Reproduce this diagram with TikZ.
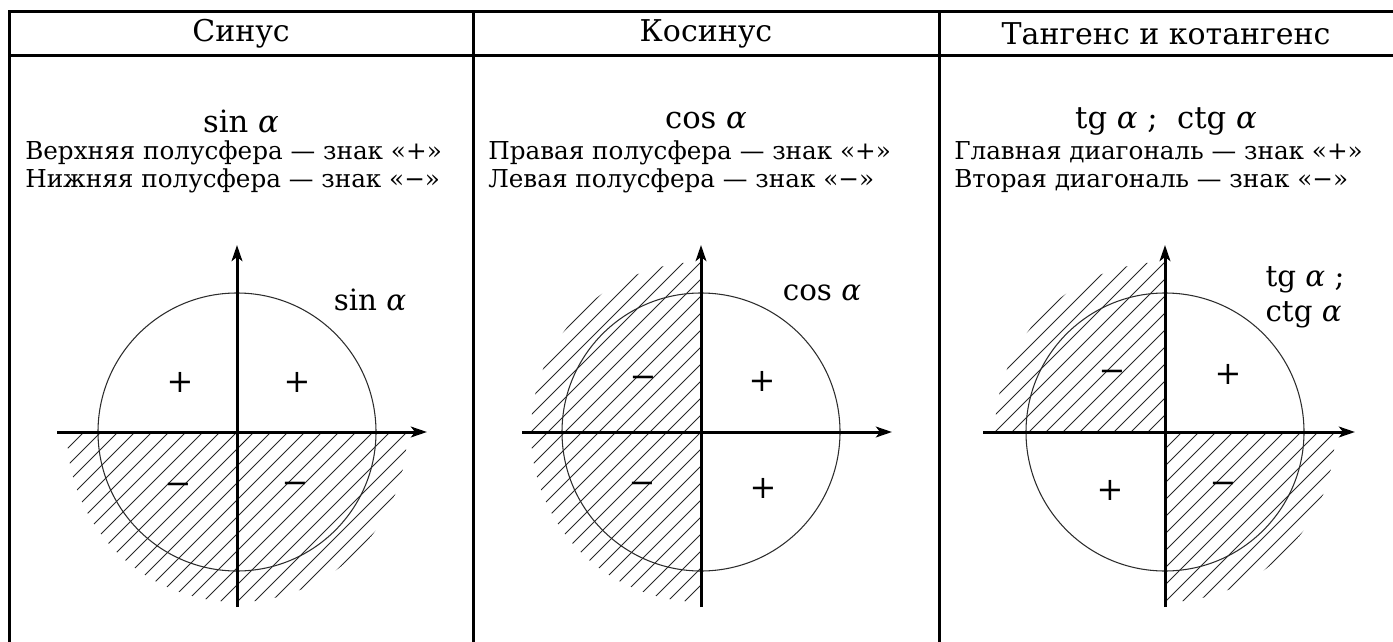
\documentclass[tikz,border=0pt]{standalone}
\usepackage{fontspec}
\setmainfont{DejaVu Serif}
\usetikzlibrary{arrows.meta,positioning,calc}
\definecolor{hatchgray}{RGB}{40,40,40}
\definecolor{ringgray}{RGB}{45,45,45}

\begin{document}
\begin{tikzpicture}[x=0.75pt, y=-0.75pt,
    rule/.style={line width=2.25pt, black},
    axis/.style={line width=2.25pt, -{Stealth[length=12pt,width=8pt,inset=3pt]}},
    ring/.style={draw=ringgray, line width=0.8pt},
    hatch/.style={draw=hatchgray, line width=0.65pt},
    head/.style={font=\fontsize{22.5}{26}\selectfont},
    fname/.style={font=\fontsize{23}{26}\selectfont},
    desc/.style={font=\fontsize{18.5}{21}\selectfont, align=left, anchor=west, inner sep=0pt},
    sgn/.style={font=\fontsize{24}{26}\selectfont},
    tag/.style={font=\fontsize{22}{26}\selectfont, align=left}
  ]
  \useasboundingbox (0,0) rectangle (1393,642);

  % table frame
  \draw[rule] (9.5,700) -- (9.5,12) -- (1395,12);
  \draw[rule] (9.5,56) -- (1395,56);
  \draw[rule] (473.5,12) -- (473.5,700);
  \draw[rule] (939,12) -- (939,700);
  \draw[rule] (1394.5,12) -- (1394.5,700);

  % header row
  \node[head] (h1) at (241,34) {Синус};
  \node[head] (h2) at (706,34) {Косинус};
  \node[head] (h3) at (1166,34) {Тангенс и котангенс};

  \node[fname] (f1) at (241,121) {sin \textit{α}};
  \node[fname] (f2) at (706,121) {cos \textit{α}};
  \node[fname] (f3) at (1166,121) {tg \textit{α} ;\ \ ctg \textit{α}};

  \node[desc] (d1) at (25,167) {Верхняя полусфера — знак «+»\\Нижняя полусфера — знак «−»};
  \node[desc] (d2) at (488,167) {Правая полусфера — знак «+»\\Левая полусфера — знак «−»};
  \node[desc] (d3) at (954,167) {Главная диагональ — знак «+»\\Вторая диагональ — знак «−»};

  % centres and axis ends
  \coordinate (o1) at (237,432);
  \coordinate (o2) at (701,432);
  \coordinate (o3) at (1165,432);
  \coordinate (w1) at (57,432);   \coordinate (e1) at (427,432);
  \coordinate (s1) at (237,607);  \coordinate (n1) at (237,245);
  \coordinate (w2) at (522,432);  \coordinate (e2) at (892,432);
  \coordinate (s2) at (701,607);  \coordinate (n2) at (701,245);
  \coordinate (w3) at (983,432);  \coordinate (e3) at (1355,432);
  \coordinate (s3) at (1165,607); \coordinate (n3) at (1165,245);

  % sine: lower half
  \begin{scope}
    \clip (o1) circle[radius=127.5pt];
    \clip ($(o1)+(-180,0)$) rectangle ($(o1)+(180,180)$);
    \foreach \s in {-357,-340,...,360}
      \draw[hatch] ($(o1)+(\s,0)+(-180,180)$) -- ++(360,-360);
  \end{scope}
  % cosine: left half
  \begin{scope}
    \clip (o2) circle[radius=127.5pt];
    \clip ($(o2)+(-180,-180)$) rectangle ($(o2)+(0,180)$);
    \foreach \s in {-357,-340,...,360}
      \draw[hatch] ($(o2)+(\s,0)+(-180,180)$) -- ++(360,-360);
  \end{scope}
  % tangent: 2nd and 4th quarters
  \begin{scope}
    \clip (o3) circle[radius=127.5pt];
    \clip ($(o3)+(-180,-180)$) rectangle (o3) ($(o3)$) rectangle ($(o3)+(180,180)$);
    \foreach \s in {-357,-340,...,360}
      \draw[hatch] ($(o3)+(\s,0)+(-180,180)$) -- ++(360,-360);
  \end{scope}

  \draw[ring] (o1) circle[radius=104.25pt];
  \draw[ring] (o2) circle[radius=104.25pt];
  \draw[ring] (o3) circle[radius=104.25pt];

  \draw[axis] (w1) -- (e1);
  \draw[axis] (s1) -- (n1);
  \draw[axis] (w2) -- (e2);
  \draw[axis] (s2) -- (n2);
  \draw[axis] (w3) -- (e3);
  \draw[axis] (s3) -- (n3);

  % signs
  \node[sgn] (p1a) at (180,382) {+};
  \node[sgn] (p1b) at (297,382) {+};
  \node[sgn] (m1a) at (178,489) {−};
  \node[sgn] (m1b) at (295,488) {−};
  \node[sgn] (m2a) at (643,382) {−};
  \node[sgn] (p2a) at (762,381) {+};
  \node[sgn] (m2b) at (642,488) {−};
  \node[sgn] (p2b) at (763,488) {+};
  \node[sgn] (m3a) at (1112,376) {−};
  \node[sgn] (p3a) at (1228,374) {+};
  \node[sgn] (p3b) at (1110,490) {+};
  \node[sgn] (m3b) at (1223,488) {−};

  \node[tag] (l1) at (370,300) {sin \textit{α}};
  \node[tag] (l2) at (822,293) {cos \textit{α}};
  \node[tag] (l3) at (1305,297) {tg \textit{α} ;\\ctg \textit{α}};
\end{tikzpicture}
\end{document}
